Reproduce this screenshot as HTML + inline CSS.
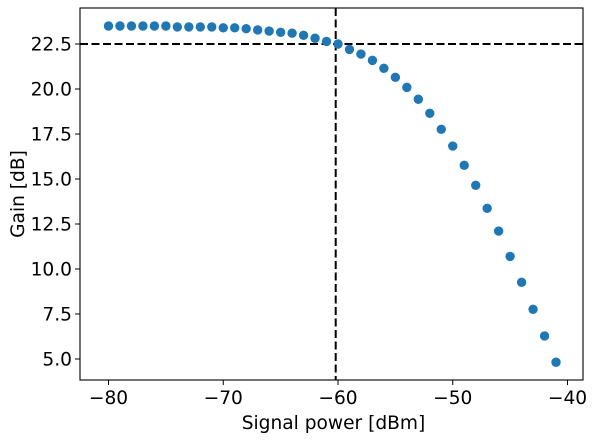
<!DOCTYPE html>
<html><head><meta charset="utf-8"><style>
body{margin:0;background:#fff;}
svg text{font-family:"DejaVu Sans","Liberation Sans",sans-serif;font-size:18.6px;fill:#000;}
</style></head><body>
<svg id="chart" width="600" height="442" xmlns="http://www.w3.org/2000/svg"></svg>
<script>
const xValues=[-80,-79,-78,-77,-76,-75,-74,-73,-72,-71,-70,-69,-68,-67,-66,-65,-64,-63,-62,-61,-60,-59,-58,-57,-56,-55,-54,-53,-52,-51,-50,-49,-48,-47,-46,-45,-44,-43,-42,-41];
const gainValues=[23.5,23.5,23.5,23.5,23.5,23.5,23.45,23.45,23.45,23.45,23.4,23.4,23.35,23.28,23.22,23.15,23.1,22.98,22.82,22.64,22.5,22.2,21.94,21.59,21.15,20.65,20.09,19.43,18.65,17.76,16.83,15.76,14.65,13.37,12.11,10.7,9.26,7.76,6.28,4.82];
const xTicks=[-80,-70,-60,-50,-40];
const yTicks=[5.0,7.5,10.0,12.5,15.0,17.5,20.0,22.5];
const xRef=[-60.2];
const yRef=[22.5];
const NS="http://www.w3.org/2000/svg";
const svg=document.getElementById('chart');
const L=80,R=583,T=8,B=380;
function xs(v){return 108.5+(v+80)*11.475;}
function ys(v){return 44+(22.5-v)*18;}
function mk(tag,attrs,parent){const e=document.createElementNS(NS,tag);for(const k in attrs)e.setAttribute(k,attrs[k]);(parent||svg).appendChild(e);return e;}
const vl=mk('line',{x1:xs(xRef[0]),x2:xs(xRef[0]),y1:T,y2:B,stroke:'#000','stroke-width':2,'stroke-dasharray':'8,3.5'});


const hl=mk('line',{x1:L,x2:R,y1:ys(yRef[0]),y2:ys(yRef[0]),stroke:'#000','stroke-width':2,'stroke-dasharray':'8,3.5'});


xValues.forEach((x,i)=>{
  const c=mk('circle',{cx:xs(x),cy:ys(gainValues[i]),r:4.7,fill:'#1f77b4'});
  
  
});
const fr=mk('rect',{x:L,y:T,width:R-L,height:B-T,fill:'none',stroke:'#000','stroke-width':1.1});


xTicks.forEach(t=>{
  const x=xs(t);
  mk('line',{x1:x,x2:x,y1:B,y2:B+5,stroke:'#000'});
  const tx=mk('text',{x:x,y:B+24,'text-anchor':'middle'});
  tx.textContent='\u2212'+Math.abs(t);
  
  
});
yTicks.forEach(t=>{
  const y=ys(t);
  mk('line',{x1:L-5,x2:L,y1:y,y2:y,stroke:'#000'});
  const tx=mk('text',{x:L-8,y:y+6.5,'text-anchor':'end'});
  tx.textContent=t.toFixed(1);
  
  
});
const xt=mk('text',{x:(L+R)/2+2,y:429,'text-anchor':'middle'});
xt.textContent='Signal power [dBm]';


const yt=mk('text',{x:24,y:(T+B)/2,'text-anchor':'middle',transform:'rotate(-90 24 '+((T+B)/2)+')'});
yt.textContent='Gain [dB]';


</script>
</body></html>
